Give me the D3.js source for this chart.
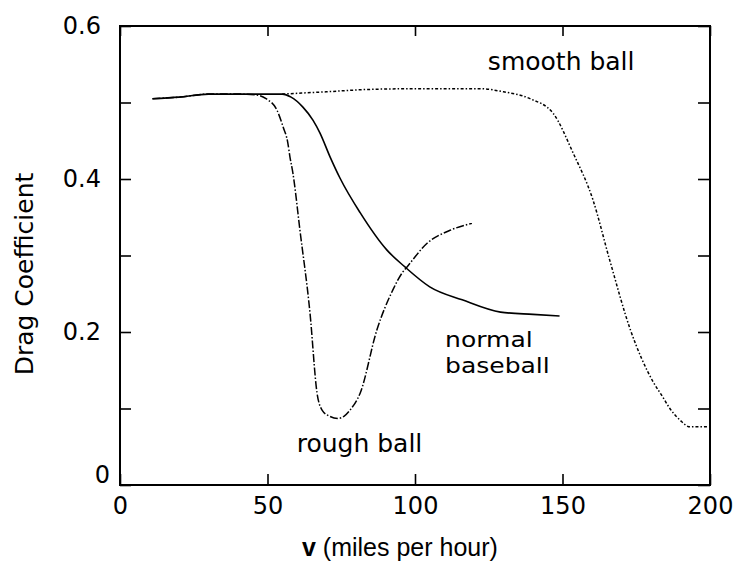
<!DOCTYPE html>
<html>
<head>
<meta charset="utf-8">
<script src="https://cdn.jsdelivr.net/npm/d3@7"></script>
<style>
  html, body { margin: 0; padding: 0; background: #fff; }
  svg { display: block; }
</style>
</head>
<body>
<svg id="chart" width="735" height="565"></svg>
<script>
// ---- data (v in mph, drag coefficient) ----
const normalBaseball = [
  [11, 0.505], [20, 0.507], [30, 0.511], [40, 0.511], [55, 0.511], [58, 0.507],
  [62, 0.494], [65.4, 0.477], [67.8, 0.460], [71.2, 0.429], [74.6, 0.401],
  [81.4, 0.356], [90.5, 0.307], [96.6, 0.285], [105, 0.259], [116, 0.242],
  [129, 0.226], [140, 0.223], [149, 0.221]
];
const roughBall = [
  [11, 0.505], [20, 0.507], [30, 0.511], [40, 0.511], [46, 0.510], [49.5, 0.505],
  [53.2, 0.490], [55.3, 0.468], [56.9, 0.447], [57.6, 0.429], [58.6, 0.408],
  [61, 0.333], [64.4, 0.225], [66.8, 0.120], [68.5, 0.098], [71, 0.090],
  [73.9, 0.087], [76, 0.090], [78, 0.098], [81.4, 0.120], [87.1, 0.203],
  [92.5, 0.255], [95.6, 0.277], [97.3, 0.285], [104.1, 0.316], [111.9, 0.333],
  [119.3, 0.342]
];
const smoothBall = [
  [55, 0.511], [60, 0.512], [70, 0.514], [83.7, 0.517], [100, 0.518], [122, 0.518],
  [130, 0.514], [139, 0.505], [146.8, 0.486], [153.6, 0.434], [160.3, 0.373],
  [166, 0.294], [173, 0.203], [180.7, 0.135], [184, 0.115], [186.4, 0.100],
  [189.8, 0.085], [193.2, 0.076], [199, 0.076]
];
const xTicks = [0, 50, 100, 150, 200];
const yTicks = [0, 0.1, 0.2, 0.3, 0.4, 0.5, 0.6];
const yTickLabels = ["0", "", "0.2", "", "0.4", "", "0.6"];
const curveLabels = [
  { lines: ["smooth ball"], v: 124.7, cd: 0.5425 },
  { lines: ["normal", "baseball"], v: 110.2, cd: 0.180 },
  { lines: ["rough ball"], v: 59.9, cd: 0.043 }
];
const xTitleBold = "v";
const xTitleRest = " (miles per hour)";
const yTitle = "Drag Coefficient";

// ---- layout ----
const svg = d3.select("#chart");
const mLeft = 120, mRight = 710, mTop = 26, mBottom = 485;
const x = d3.scaleLinear().domain([0, 200]).range([mLeft, mRight]);
const y = d3.scaleLinear().domain([0, 0.6]).range([mBottom, mTop]);

svg.append("rect").attr("width", 735).attr("height", 565).attr("fill", "#fff");

const tickFont = "'DejaVu Sans', sans-serif";

// bottom axis
const gB = svg.append("g").attr("transform", `translate(0,${mBottom})`)
  .call(d3.axisBottom(x).tickValues(xTicks).tickSizeInner(-11).tickSizeOuter(0).tickPadding(12));
// left axis
const gL = svg.append("g").attr("transform", `translate(${mLeft},0)`)
  .call(d3.axisLeft(y).tickValues(yTicks).tickSizeInner(-11).tickSizeOuter(0).tickPadding(19)
    .tickFormat((d, i) => yTickLabels[i]));
// top axis (ticks only)
const gT = svg.append("g").attr("transform", `translate(0,${mTop})`)
  .call(d3.axisTop(x).tickValues(xTicks).tickSizeInner(-10).tickSizeOuter(0).tickFormat(""));
// right axis (ticks only)
const gR = svg.append("g").attr("transform", `translate(${mRight},0)`)
  .call(d3.axisRight(y).tickValues(yTicks).tickSizeInner(-12).tickSizeOuter(0).tickFormat(""));

[gB, gL, gT, gR].forEach(g => {
  g.select(".domain").remove();
  g.selectAll(".tick line").attr("stroke", "#000").attr("stroke-width", 1.6);
  g.selectAll(".tick text").attr("fill", "#000").attr("font-family", tickFont).attr("font-size", 24);
});
// "0" on the y axis sits a bit lower-right in the reference
gL.selectAll(".tick text").filter(d => d === 0).attr("x", -10).attr("dy", "-0.1em");

// frame
svg.append("rect")
  .attr("x", mLeft).attr("y", mTop)
  .attr("width", mRight - mLeft).attr("height", mBottom - mTop)
  .attr("fill", "none").attr("stroke", "#000").attr("stroke-width", 2);

// curves
const line = d3.line().x(d => x(d[0])).y(d => y(d[1])).curve(d3.curveMonotoneX);
svg.append("path").datum(smoothBall).attr("d", line)
  .attr("fill", "none").attr("stroke", "#000").attr("stroke-width", 1.5)
  .attr("stroke-dasharray", "3,2,1.5,2");
svg.append("path").datum(roughBall).attr("d", line)
  .attr("fill", "none").attr("stroke", "#000").attr("stroke-width", 1.5)
  .attr("stroke-dasharray", "8,2,1.5,2");
svg.append("path").datum(normalBaseball).attr("d", line)
  .attr("fill", "none").attr("stroke", "#000").attr("stroke-width", 1.6);

// curve labels (multi-line labels drawn as separate lines, slightly condensed height)
curveLabels.forEach(l => {
  const multi = l.lines.length > 1;
  l.lines.forEach((s, i) => {
    const t = svg.append("text")
      .attr("x", x(l.v)).attr("y", y(l.cd) + i * 26)
      .attr("font-family", tickFont).attr("font-size", multi ? 22 : 25).attr("fill", "#000")
      .text(s);
    if (multi) {
      const w = t.node().getComputedTextLength();
      t.attr("textLength", w * 25 / 22).attr("lengthAdjust", "spacingAndGlyphs");
    }
  });
});

// axis titles
const xt = svg.append("text")
  .attr("x", 302).attr("y", 556)
  .attr("font-family", "'Liberation Sans', Arial, sans-serif").attr("font-size", 25).attr("fill", "#000");
xt.append("tspan").attr("font-weight", "bold").text(xTitleBold);
xt.append("tspan").text(xTitleRest);

svg.append("text")
  .attr("transform", "translate(33,274) rotate(-90)")
  .attr("text-anchor", "middle")
  .attr("font-family", tickFont).attr("font-size", 25).attr("fill", "#000")
  .text(yTitle);
</script>
</body>
</html>
